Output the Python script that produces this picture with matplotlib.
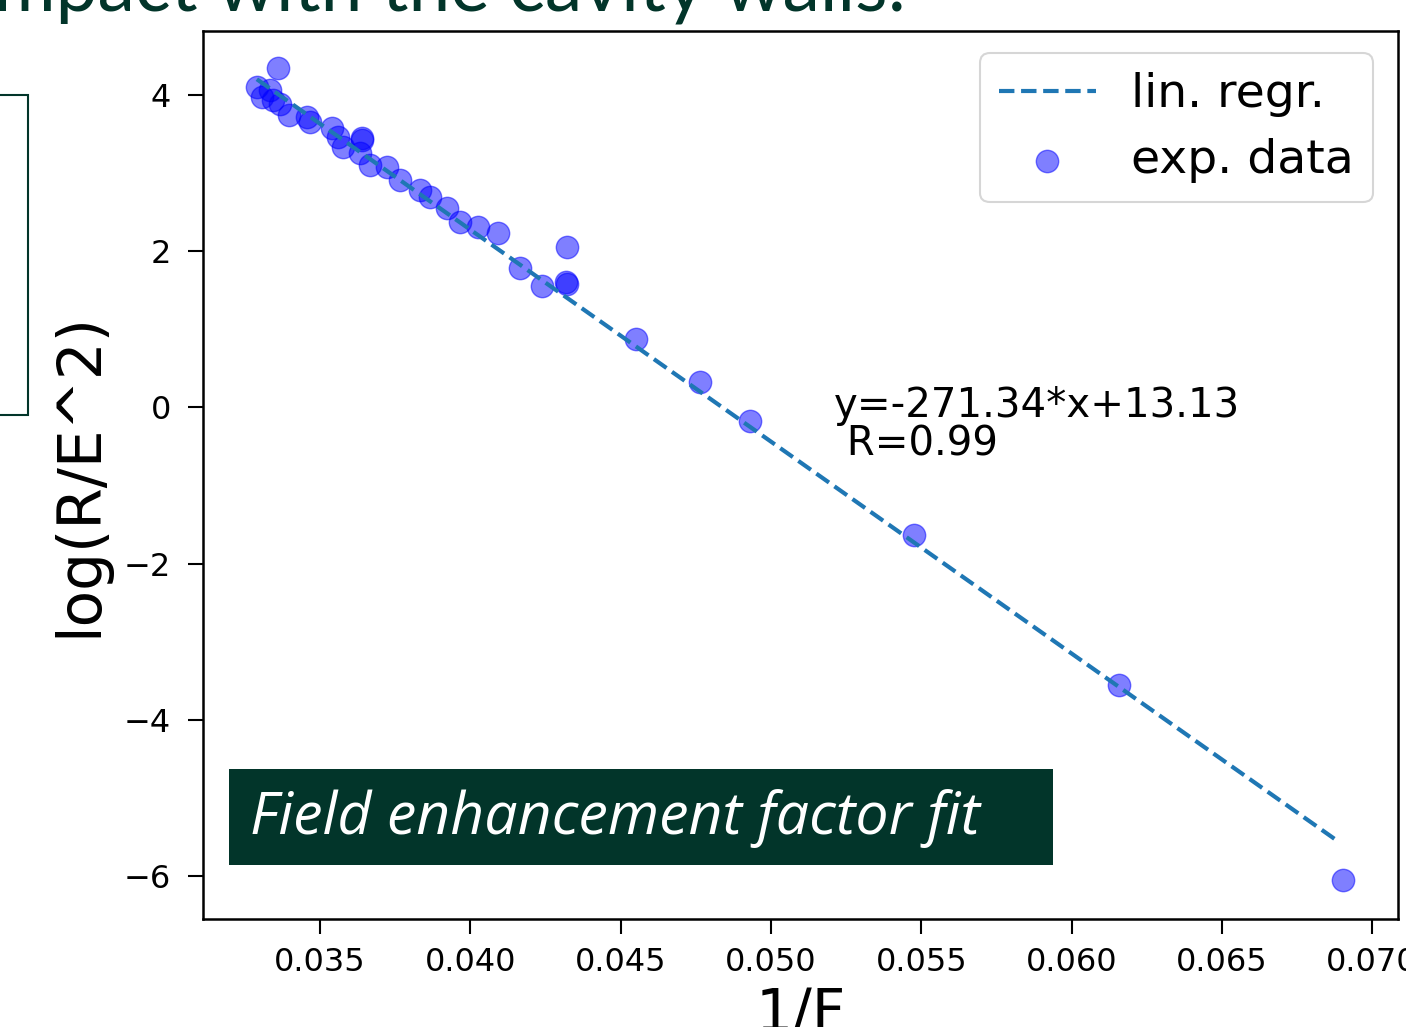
import matplotlib.pyplot as plt
import matplotlib.patches as mpatches
import numpy as np

# 1/F and log(R/E^2)
inv_f = [0.03360, 0.03290, 0.03307, 0.03334, 0.03344, 0.03367, 0.03397,
         0.03457, 0.03467, 0.03540, 0.03560, 0.03577, 0.03640, 0.03640,
         0.03633, 0.03666, 0.03723, 0.03766, 0.03833, 0.03866, 0.03922,
         0.03966, 0.04026, 0.04092, 0.04165, 0.04239, 0.04322, 0.04318,
         0.04322, 0.04551, 0.04764, 0.04930, 0.05476, 0.06158, 0.06903]
log_r = [4.35, 4.10, 3.97, 4.06, 3.94, 3.88, 3.74,
         3.72, 3.65, 3.58, 3.46, 3.33, 3.45, 3.42,
         3.26, 3.10, 3.08, 2.91, 2.78, 2.69, 2.55,
         2.37, 2.31, 2.24, 1.78, 1.55, 2.05, 1.60,
         1.58, 0.87, 0.32, -0.18, -1.63, -3.55, -6.05]

slope = -271.34
intercept = 13.13
r_value = 0.99
x_ticks = [0.035, 0.040, 0.045, 0.050, 0.055, 0.060, 0.065, 0.070]
y_ticks = [-6, -4, -2, 0, 2, 4]

GREEN = "#02352a"

fig = plt.figure(figsize=(14.06, 10.27), dpi=100)
ax = fig.add_axes([0.1444, 0.1052, 0.8499, 0.8646])

xs = np.array(inv_f)
xl = np.linspace(xs.min(), 0.0688, 50)
ax.plot(xl, slope * xl + intercept, "--", color="#1f77b4", linewidth=3.0,
        label="lin. regr.")
ax.scatter(inv_f, log_r, s=260, color="blue", alpha=0.5, label="exp. data")
ax.text(0.0521, -0.23, f"y={slope}*x+{intercept}\n R={r_value}", fontsize=29,
        linespacing=0.95, va="center")

ax.set_xlim(0.03111, 0.07086)
ax.set_ylim(-6.55, 4.82)
ax.set_xticks(x_ticks)
ax.set_yticks(y_ticks)
ax.set_xticklabels([f"{t:.3f}" for t in x_ticks])
ax.set_yticklabels([f"{t}".replace("-", "\u2212") for t in y_ticks])
ax.tick_params(labelsize=23, length=11, width=1.5, pad=12)
ax.tick_params(axis="x", pad=9)
for sp in ax.spines.values():
    sp.set_linewidth(1.8)
ax.set_xlabel("1/F", fontsize=42, labelpad=6)
ax.set_ylabel("log(R/E^2)", fontsize=43, labelpad=10)

leg = ax.legend(loc="upper right", fontsize=34, handlelength=2.05,
                borderpad=0.4, labelspacing=0.45, handletextpad=0.75,
                borderaxespad=0, bbox_to_anchor=(0.979, 0.975))
leg.get_frame().set_linewidth(1.5)

# slide decorations around the chart
fig.text(-0.004, 1 - 11 / 1027, "mpact with the cavity walls:", fontsize=54,
         color=GREEN, family="Lato", va="baseline", ha="left")
fig.add_artist(mpatches.Rectangle((-0.01, 1 - 415 / 1027), 0.01 + 28 / 1406,
                                  320 / 1027, transform=fig.transFigure,
                                  fill=False, edgecolor=GREEN, linewidth=1.5))
fig.add_artist(mpatches.Rectangle((229 / 1406, 1 - 865 / 1027), 824 / 1406,
                                  96 / 1027, transform=fig.transFigure,
                                  facecolor=GREEN, edgecolor="none", zorder=5))
fig.text(250 / 1406, 1 - 818 / 1027, "Field enhancement factor fit",
         fontsize=42.5, style="italic", color="white", family="Open Sans",
         va="center", ha="left", zorder=6)

fig.savefig("out.png", dpi=100)
